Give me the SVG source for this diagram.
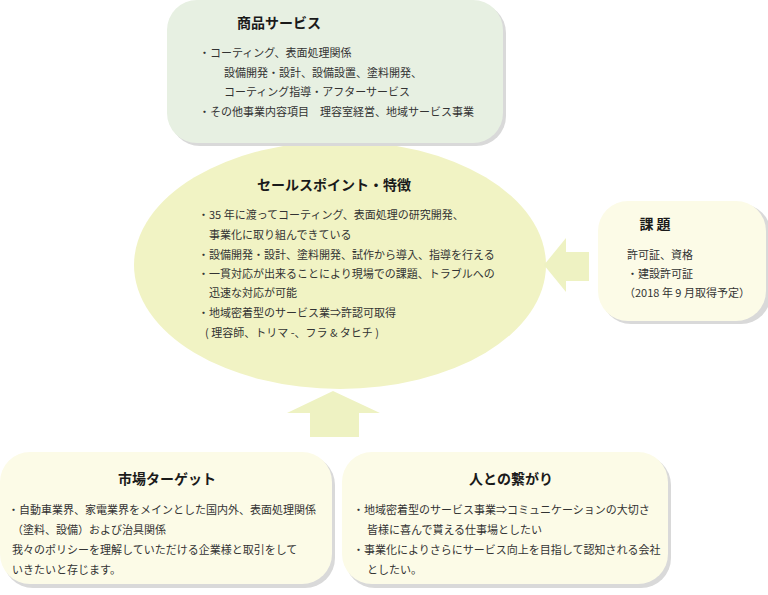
<svg xmlns="http://www.w3.org/2000/svg" width="768" height="595" viewBox="0 0 768 595">
<style>
text{font-family:"Noto Sans CJK JP","Noto Sans",sans-serif;fill:#333;font-size:11px}
.t{font-size:14px;font-weight:bold;fill:#1a1a1a}
.sh{fill:#d9d9d9}
.g{fill:#e7f0e2}
.y{fill:#fcfbe7}
.a{fill:#eef2c2}
</style>
<rect width="768" height="595" fill="#ffffff"/>
<g id="sales-point">
<ellipse cx="340" cy="265" rx="206" ry="124" fill="#f1f3c4"/>
<text class="t" x="334" y="190" text-anchor="middle">セールスポイント・特徴</text>
<text x="198" y="219">・35 年に渡ってコーティング、表面処理の研究開発、</text>
<text x="209" y="239">事業化に取り組んできている</text>
<text x="198" y="259">・設備開発・設計、塗料開発、試作から導入、指導を行える</text>
<text x="198" y="278">・一貫対応が出来ることにより現場での課題、トラブルへの</text>
<text x="209" y="297">迅速な対応が可能</text>
<text x="198" y="317">・地域密着型のサービス業⇒許認可取得</text>
<text x="205" y="337">( 理容師、トリマ -、フラ &amp; タヒチ )</text>
</g>
<g id="products">
<rect class="sh" x="170" y="3" width="336" height="143" rx="30"/>
<rect class="g" x="167" y="0" width="336" height="143" rx="30"/>
<text class="t" x="279" y="28" text-anchor="middle">商品サービス</text>
<text x="199" y="57">・コーティング、表面処理関係</text>
<text x="224" y="77">設備開発・設計、設備設置、塗料開発、</text>
<text x="224" y="96">コーティング指導・アフターサービス</text>
<text x="199" y="116">・その他事業内容項目　理容室経営、地域サービス事業</text>
</g>
<g id="issues">
<rect class="sh" x="601" y="204" width="170" height="120" rx="30"/>
<rect class="y" x="598" y="201" width="168" height="120" rx="30"/>
<text class="t" x="655" y="229" text-anchor="middle">課 題</text>
<text x="627" y="259">許可証、資格</text>
<text x="627" y="278">・建設許可証</text>
<text x="624" y="297">（2018 年 9 月取得予定）</text>
</g>
<g id="market">
<rect class="sh" x="3" y="455" width="332" height="133" rx="30"/>
<rect class="y" x="0" y="452" width="332" height="132" rx="30"/>
<text class="t" x="167" y="484" text-anchor="middle">市場ターゲット</text>
<text x="8" y="514">・自動車業界、家電業界をメインとした国内外、表面処理関係</text>
<text x="12" y="534">（塗料、設備）および治具関係</text>
<text x="12" y="554">我々のポリシーを理解していただける企業様と取引をして</text>
<text x="12" y="574">いきたいと存じます。</text>
</g>
<g id="people">
<rect class="sh" x="345" y="455" width="326" height="133" rx="30"/>
<rect class="y" x="342" y="452" width="326" height="132" rx="30"/>
<text class="t" x="511" y="484" text-anchor="middle">人との繋がり</text>
<text x="353" y="514">・地域密着型のサービス事業⇒コミュニケーションの大切さ</text>
<text x="367" y="534">皆様に喜んで貰える仕事場としたい</text>
<text x="353" y="554">・事業化によりさらにサービス向上を目指して認知される会社</text>
<text x="367" y="574">としたい。</text>
</g>
<g id="connectors">
<polygon class="a" points="544,265 566,238 566,252 589,252 589,281 566,281 566,292"/>
<polygon class="a" points="333,391 380,413 359,413 359,437 310,437 310,413 287,413"/>
</g>
</svg>
